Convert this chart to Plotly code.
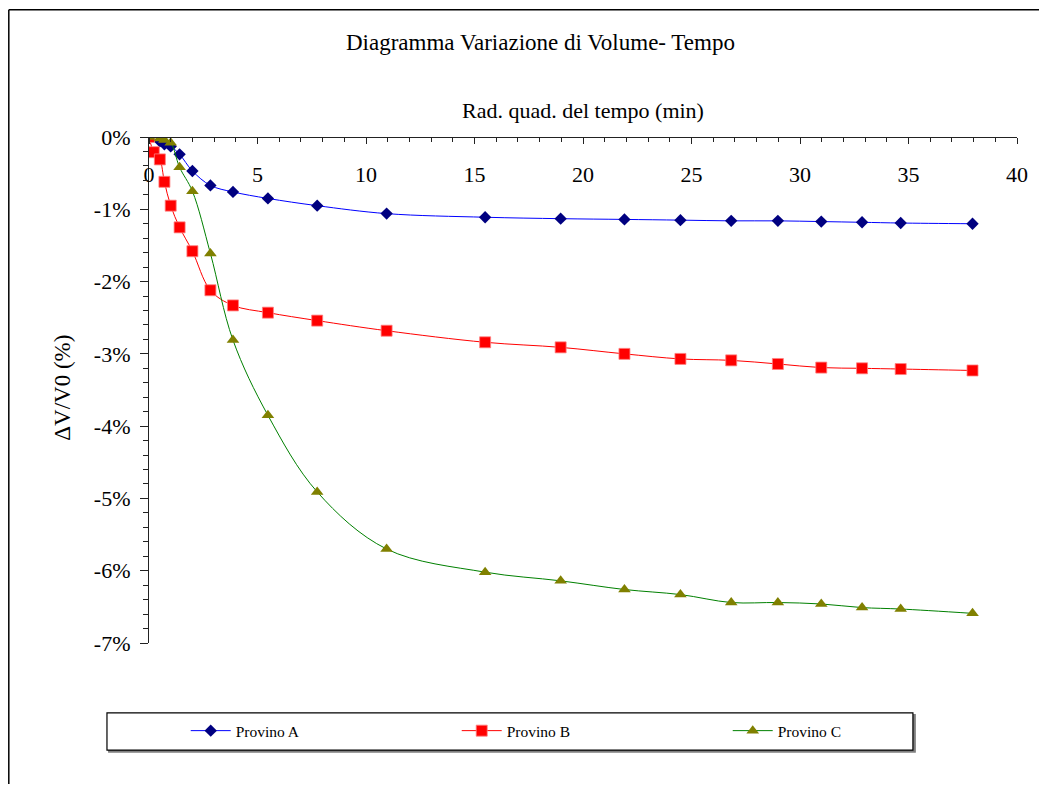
import plotly.graph_objects as go

# ---- data ----
x_A = [0, 0.5, 0.71, 1, 1.41, 2, 2.83, 3.87, 5.48, 7.75, 10.95, 15.49, 18.97, 21.91, 24.49, 26.83, 28.98, 30.98, 32.86, 34.64, 37.95]
y_A = [0, -0.06, -0.10, -0.13, -0.24, -0.47, -0.67, -0.76, -0.85, -0.95, -1.06, -1.11, -1.13, -1.14, -1.15, -1.16, -1.16, -1.17, -1.18, -1.19, -1.20]

x_B = [0, 0.22, 0.5, 0.71, 1, 1.41, 2, 2.83, 3.87, 5.48, 7.75, 10.95, 15.49, 18.97, 21.91, 24.49, 26.83, 28.98, 30.98, 32.86, 34.64, 37.95]
y_B = [0, -0.21, -0.31, -0.62, -0.95, -1.25, -1.58, -2.12, -2.33, -2.43, -2.54, -2.68, -2.84, -2.91, -3.00, -3.07, -3.09, -3.14, -3.19, -3.20, -3.21, -3.23]

x_C = [0, 0.5, 0.71, 1, 1.41, 2, 2.83, 3.87, 5.48, 7.75, 10.95, 15.49, 18.97, 21.91, 24.49, 26.83, 28.98, 30.98, 32.86, 34.64, 37.95]
y_C = [0, -0.02, -0.04, -0.08, -0.42, -0.75, -1.61, -2.81, -3.85, -4.91, -5.70, -6.02, -6.14, -6.26, -6.33, -6.44, -6.44, -6.46, -6.51, -6.53, -6.59]

series_names = ["Provino A", "Provino B", "Provino C"]
x_ticks = [0, 5, 10, 15, 20, 25, 30, 35, 40]
y_ticks = [0, -1, -2, -3, -4, -5, -6, -7]
y_ticktext = ["0%", "-1%", "-2%", "-3%", "-4%", "-5%", "-6%", "-7%"]

title_text = "Diagramma Variazione di Volume- Tempo"
xtitle_text = "Rad. quad. del tempo (min)"
ytitle_text = "ΔV/V0 (%)"

# ---- layout geometry (reference pixels) ----
OFF = 8  # page body margin offset
W, H = 1047 - 2 * OFF, 792 - 2 * OFF  # figure fits inside the window, no scrollbars
L, R, T, B = 149.3, 1016.7, 136.5, 643.3
PW, PH = R - L, B - T


def px(xp):
    return (xp - L) / PW


def py(yp):
    return (B - yp) / PH


FONT = "Liberation Serif"
AX = "#222222"

fig = go.Figure()
fig.add_trace(go.Scatter(
    x=x_A, y=y_A, name=series_names[0], mode="lines+markers",
    line=dict(color="#0000FF", width=1, shape="spline"),
    marker=dict(symbol="diamond", size=9.5, color="#000080"),
))
fig.add_trace(go.Scatter(
    x=x_B, y=y_B, name=series_names[1], mode="lines+markers",
    line=dict(color="#FF0000", width=1, shape="spline"),
    marker=dict(symbol="square", size=11, color="#FF0000",
                line=dict(color="#FF8080", width=0.8)),
))
fig.add_trace(go.Scatter(
    x=x_C, y=y_C, name=series_names[2], mode="lines+markers",
    line=dict(color="#008000", width=1, shape="spline"),
    marker=dict(symbol="triangle-up", size=11, color="#808000"),
))

shapes = [
    # outer chart border: only top and left edges are visible in the reference
    dict(type="line", xref="paper", yref="paper",
         x0=px(9.2), x1=px(1060), y0=py(9.0), y1=py(9.0),
         line=dict(color="#000000", width=1.5), layer="below"),
    dict(type="line", xref="paper", yref="paper",
         x0=px(9.2), x1=px(9.2), y0=py(9.0), y1=py(800),
         line=dict(color="#000000", width=1.5), layer="below"),
    # legend shadow
    dict(type="rect", xref="paper", yref="paper",
         x0=px(109), x1=px(915), y0=py(715), y1=py(752.5),
         line=dict(color="#808080", width=1.2), fillcolor="#808080", layer="below"),
    # legend box
    dict(type="rect", xref="paper", yref="paper",
         x0=px(107.3), x1=px(912.7), y0=py(713.3), y1=py(750.5),
         line=dict(color="#000000", width=1.2), fillcolor="#FFFFFF", layer="below"),
]

annotations = [
    dict(text=title_text, xref="paper", yref="paper", x=px(541), y=py(42),
         xanchor="center", yanchor="middle", showarrow=False,
         font=dict(family=FONT, size=23, color="#000000")),
    dict(text=xtitle_text, xref="paper", yref="paper", x=px(583), y=py(110),
         xanchor="center", yanchor="middle", showarrow=False,
         font=dict(family=FONT, size=22, color="#000000")),
    dict(text=ytitle_text, xref="paper", yref="paper", x=px(62), y=py(388),
         xanchor="center", yanchor="middle", showarrow=False, textangle=-90,
         font=dict(family=FONT, size=23, color="#000000")),
]

fig.update_layout(
    width=W, height=H,
    margin=dict(l=L - OFF, r=W - (R - OFF), t=T - OFF, b=H - (B - OFF), pad=0),
    paper_bgcolor="#FFFFFF", plot_bgcolor="#FFFFFF",
    font=dict(family=FONT, size=22, color="#000000"),
    showlegend=True,
    legend=dict(orientation="h", x=px(186), y=py(731.5), xanchor="left", yanchor="middle",
                bgcolor="rgba(0,0,0,0)", borderwidth=0,
                font=dict(family=FONT, size=15.5, color="#000000"),
                entrywidth=216, entrywidthmode="pixels", itemwidth=40),
    shapes=shapes,
    annotations=annotations,
    xaxis=dict(
        range=[0, 40], anchor="free", position=1, side="bottom",
        showline=True, linecolor=AX, linewidth=1.2, mirror=False,
        showgrid=False, zeroline=False,
        tickmode="array", tickvals=x_ticks, ticktext=[str(v) for v in x_ticks],
        ticks="outside", ticklen=6, tickwidth=1.2, tickcolor=AX,
        ticklabelstandoff=11,
        minor=dict(dtick=1, tick0=0, ticks="outside", ticklen=4, tickwidth=1, tickcolor=AX, showgrid=False),
        tickfont=dict(family=FONT, size=22, color="#000000"),
    ),
    yaxis=dict(
        range=[-7, 0], side="left",
        showline=True, linecolor=AX, linewidth=1.2,
        showgrid=False, zeroline=False,
        tickmode="array", tickvals=y_ticks, ticktext=y_ticktext,
        ticks="outside", ticklen=8, tickwidth=1.2, tickcolor=AX,
        ticklabelstandoff=5,
        minor=dict(dtick=0.2, tick0=0, ticks="outside", ticklen=5, tickwidth=1, tickcolor=AX, showgrid=False),
        tickfont=dict(family=FONT, size=22, color="#000000"),
    ),
)

fig.write_html("out.html")
